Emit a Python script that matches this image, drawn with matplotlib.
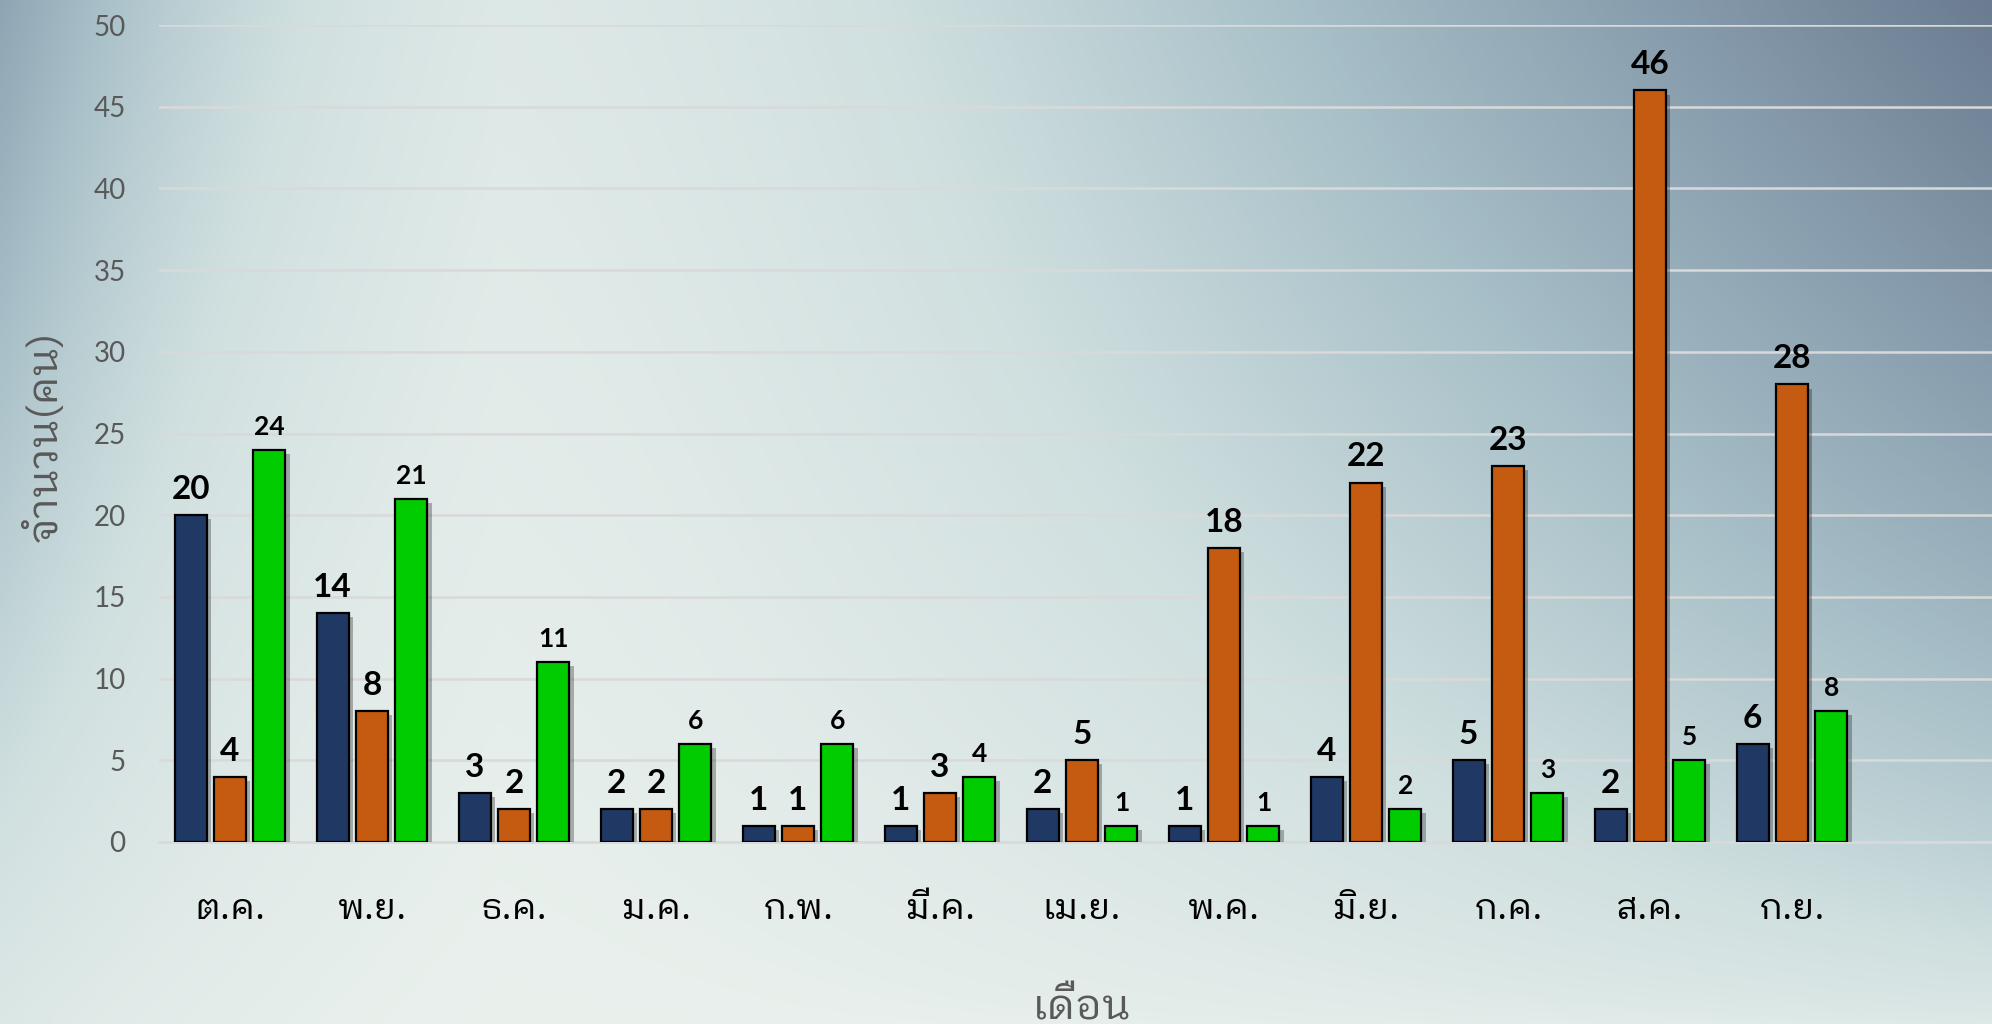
import numpy as np
import matplotlib
matplotlib.use("Agg")
import matplotlib.pyplot as plt
from matplotlib import font_manager, patheffects
from matplotlib.colors import LinearSegmentedColormap
from matplotlib.ft2font import FT2Font

# ---- data -------------------------------------------------------------
months = ["ต.ค.", "พ.ย.", "ธ.ค.", "ม.ค.", "ก.พ.", "มี.ค.",
          "เม.ย.", "พ.ค.", "มิ.ย.", "ก.ค.", "ส.ค.", "ก.ย."]
series_navy = [20, 14, 3, 2, 1, 1, 2, 1, 4, 5, 2, 6]
series_orange = [4, 8, 2, 2, 1, 3, 5, 18, 22, 23, 46, 28]
series_green = [24, 21, 11, 6, 6, 4, 1, 1, 2, 3, 5, 8]
y_ticks = [0, 5, 10, 15, 20, 25, 30, 35, 40, 45, 50]
y_label = "จำนวน(คน)"
x_label = "เดือน"

colors = ["#203864", "#c55a11", "#00cc00"]


def find_thai_family():
    """Pick an installed family that can draw Thai, preferring a looped,
    regular-weight face."""
    needed = [ord(c) for c in "ตคพยธมกีเนสำวดือ"]
    candidates = []
    for f in font_manager.fontManager.ttflist:
        try:
            cmap = FT2Font(f.fname).get_charmap()
        except Exception:
            continue
        if all(c in cmap for c in needed):
            w = f.weight if isinstance(f.weight, int) else 400
            score = 0
            if "Looped" in f.name:
                score -= 10
            if f.style != "normal":
                score += 20
            score += abs(w - 400) / 100.0
            candidates.append((score, f.name))
    if not candidates:
        return "DejaVu Sans"
    candidates.sort()
    return candidates[0][1]


thai_family = [find_thai_family(), "DejaVu Sans"]
num_family = ["Lato", "DejaVu Sans"]

W, H, DPI = 1992, 1024, 100
fig = plt.figure(figsize=(W / DPI, H / DPI), dpi=DPI)

# ---- soft slate-blue background -----------------------------------------
bg_ax = fig.add_axes([0, 0, 1, 1], zorder=-10)
bg_ax.set_axis_off()
gx, gy = np.meshgrid(np.linspace(0, 1, 400), np.linspace(0, 1, 220))
sx = np.clip((gx - 0.25) / 0.75, 0, 1)
sy = 0.16 + 0.84 * gy ** 0.7
t_right = sx * sy
t_left = 0.72 * np.exp(-gx / 0.17) * (0.25 + 0.75 * gy)
t = 1 - (1 - t_right) * (1 - t_left)
bg_cmap = LinearSegmentedColormap.from_list(
    "bg", [(0.0, "#eef3ef"), (0.3, "#cfdfdf"), (0.55, "#a6bec7"),
           (0.8, "#8499aa"), (1.0, "#6b7c90")])
bg_ax.imshow(t, cmap=bg_cmap, vmin=0, vmax=1, origin="lower",
             extent=[0, 1, 0, 1], aspect="auto", interpolation="bicubic")
bg_ax.set_xlim(0, 1)
bg_ax.set_ylim(0, 1)

# ---- main chart -------------------------------------------------------
ax = fig.add_axes([159 / W, 1 - 842 / H, 1 - 159 / W, (842 - 25) / H])
ax.patch.set_alpha(0)

x = np.arange(len(months))
bar_w = 0.225
pitch = 0.2775
shadow = [patheffects.SimplePatchShadow(offset=(3, -3), shadow_rgbFace="#000000", alpha=0.28),
          patheffects.Normal()]

all_series = [series_navy, series_orange, series_green]
for i, (vals, col) in enumerate(zip(all_series, colors)):
    pos = x + (i - 1) * pitch
    bars = ax.bar(pos, vals, width=bar_w, color=col, edgecolor="black",
                  linewidth=1.6, zorder=3)
    for b in bars:
        b.set_path_effects(shadow)
    size = 19 if i == 2 else 24
    for px, v in zip(pos, vals):
        ax.annotate(str(v), (px, v), xytext=(0, 8), textcoords="offset points",
                    ha="center", va="bottom", fontsize=size, fontweight="bold",
                    family=num_family, color="black", zorder=5)

ax.set_xlim(-0.5, -0.5 + (W - 159) / 142.0)
ax.set_ylim(0, 50)
ax.set_yticks(y_ticks)
ax.set_yticklabels([str(v) for v in y_ticks], family=num_family, fontsize=20,
                   color="#595959")
ax.set_xticks(x)
ax.set_xticklabels(months, family=thai_family, fontsize=26, color="black")
ax.tick_params(axis="both", length=0)
ax.tick_params(axis="x", pad=36)
ax.tick_params(axis="y", pad=24)

ax.grid(axis="y", color="#d9d9d9", linewidth=1.8, zorder=0)
for s in ["top", "right", "left"]:
    ax.spines[s].set_visible(False)
ax.spines["bottom"].set_color("#d9d9d9")
ax.spines["bottom"].set_linewidth(2)

fig.text(44 / W, 1 - 436 / H, y_label, rotation=90, ha="center", va="center",
         fontsize=30, color="#595959", family=thai_family)
fig.text(1082 / W, 1 - 1008 / H, x_label, ha="center", va="center",
         fontsize=30, color="#595959", family=thai_family)

fig.savefig("out.png", dpi=DPI)
